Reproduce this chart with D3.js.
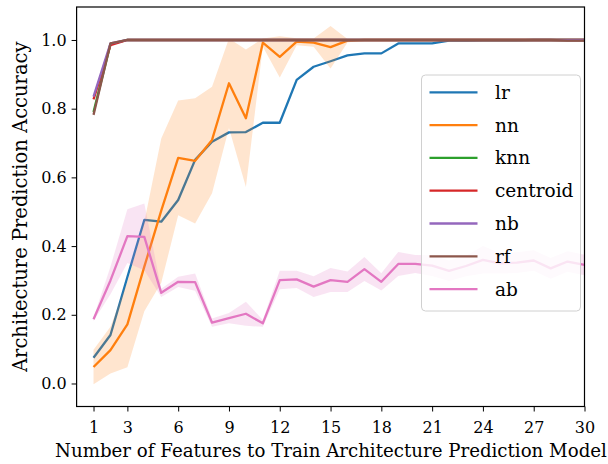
<!DOCTYPE html>
<html><head><meta charset="utf-8">
<script src="https://cdn.jsdelivr.net/npm/d3@7"></script>
<style>body{margin:0;background:#fff}svg{display:block}</style>
</head><body>
<script>
const features = [1,2,3,4,5,6,7,8,9,10,11,12,13,14,15,16,17,18,19,20,21,22,23,24,25,26,27,28,29,30];
const lr = [0.075,0.141,0.31,0.476,0.471,0.534,0.651,0.704,0.731,0.732,0.759,0.759,0.884,0.922,0.938,0.955,0.961,0.961,0.990,0.990,0.990,0.998,0.998,0.999,0.999,0.999,1.0,1.0,1.0,1.0];
const nn = [0.048,0.097,0.172,0.34,0.503,0.657,0.648,0.709,0.874,0.772,0.992,0.951,0.995,0.992,0.979,0.998,1.0,1.0,1.0,1.0,1.0,1.0,1.0,1.0,1.0,1.0,1.0,1.0,1.0,1.0];
const nnStd = [0.05,0.068,0.125,0.13,0.21,0.167,0.182,0.155,0.13,0.2,0.012,0.06,0.01,0.012,0.062,0.005,0,0,0,0,0,0,0,0,0,0,0,0,0,0];
const knn = [0.79,0.988,1,1,1,1,1,1,1,1,1,1,1,1,1,1,1,1,1,1,1,1,1,1,1,1,1,1,1,1];
const centroid = [0.827,0.985,1,1,1,1,1,1,1,1,1,1,1,1,1,1,1,1,1,1,1,1,1,1,1,1,1,1,1,1];
const nb = [0.835,0.99,1,1,1,1,1,1,1,1,1,1,1,1,1,1,1,1,1,1,1,1,1,1,1,1,1,1,1,1];
const rf = [0.782,0.99,1,1,1,1,1,1,1,1,1,1,1,1,1,1,1,1,1,1,1,1,1,1,1,1,1,1,0.998,0.998];
const ab = [0.187,0.30,0.429,0.427,0.264,0.296,0.295,0.177,0.190,0.203,0.175,0.301,0.303,0.282,0.301,0.296,0.333,0.296,0.348,0.348,0.343,0.328,0.342,0.36,0.35,0.352,0.358,0.335,0.355,0.345];
const abStd = [0.005,0.04,0.078,0.097,0.012,0.015,0.025,0.012,0.015,0.035,0.01,0.027,0.025,0.03,0.035,0.03,0.035,0.025,0.035,0.026,0.03,0.03,0.03,0.04,0.03,0.03,0.03,0.03,0.03,0.03];
const seriesNames = ["lr","nn","knn","centroid","nb","rf","ab"];
const colors = ["#1f77b4","#ff7f0e","#2ca02c","#d62728","#9467bd","#8c564b","#e377c2"];
const xTicks = [1,3,6,9,12,15,18,21,24,27,30];
const yTicks = [0.0,0.2,0.4,0.6,0.8,1.0];
const xLabel = "Number of Features to Train Architecture Prediction Model";
const yLabel = "Architecture Prediction Accuracy";

const values = [lr, nn, knn, centroid, nb, rf, ab];
const stds = [null, nnStd, null, null, null, null, abStd];
const FONT = "'DejaVu Serif'";

const W = 608, H = 464;
const m = {left: 76.6, right: 584.5, top: 7, bottom: 406.5};
const svg = d3.select("body").append("svg").attr("width", W).attr("height", H);
const x = d3.scaleLinear().domain([0, 30]).range([m.left, m.right]);
const y = d3.scaleLinear().domain([-0.067, 1.096]).range([m.bottom, m.top]);

const g = svg.append("g");
values.forEach((vals, i) => {
  if (stds[i]) {
    const area = d3.area().x((d, j) => x(features[j])).y0((d, j) => y(vals[j] - stds[i][j])).y1((d, j) => y(vals[j] + stds[i][j]));
    g.append("path").attr("d", area(vals)).attr("fill", colors[i]).attr("fill-opacity", 0.2).attr("stroke", "none");
  }
  const line = d3.line().x((d, j) => x(features[j])).y(d => y(d));
  g.append("path").attr("d", line(vals)).attr("fill", "none").attr("stroke", colors[i]).attr("stroke-width", 2.3).attr("stroke-linejoin", "round");
});

const xAxis = svg.append("g").attr("transform", `translate(0,${m.bottom})`)
  .call(d3.axisBottom(x).tickValues(xTicks).tickSize(5).tickPadding(10).tickFormat(d3.format("d")));
const yAxis = svg.append("g").attr("transform", `translate(${m.left},0)`)
  .call(d3.axisLeft(y).tickValues(yTicks).tickSize(5).tickPadding(5).tickFormat(d3.format(".1f")));
[xAxis, yAxis].forEach(a => {
  a.attr("font-family", FONT).attr("font-size", 16);
  a.select(".domain").remove();
  a.selectAll(".tick line").attr("stroke", "#000").attr("stroke-width", 1);
  a.selectAll(".tick text").attr("fill", "#000");
});
svg.append("rect").attr("x", m.left).attr("y", m.top).attr("width", m.right - m.left).attr("height", m.bottom - m.top)
  .attr("fill", "none").attr("stroke", "#000").attr("stroke-width", 1.2);

svg.append("text").attr("x", 331).attr("y", 457).attr("text-anchor", "middle")
  .attr("font-family", FONT).attr("font-size", 18.2).text(xLabel);
svg.append("text").attr("transform", `translate(27,${(m.top + m.bottom) / 2}) rotate(-90)`).attr("text-anchor", "middle")
  .attr("font-family", FONT).attr("font-size", 19.5).text(yLabel);

const lg = svg.append("g");
lg.append("rect").attr("x", 421.5).attr("y", 75).attr("width", 159).attr("height", 236).attr("rx", 4)
  .attr("fill", "#fff").attr("fill-opacity", 0.8).attr("stroke", "#d0d0d0").attr("stroke-width", 1);
seriesNames.forEach((n, i) => {
  const yy = 92.3 + i * 32.8;
  lg.append("line").attr("x1", 429.5).attr("x2", 477.5).attr("y1", yy).attr("y2", yy)
    .attr("stroke", colors[i]).attr("stroke-width", 2.3);
  lg.append("text").attr("x", 495).attr("y", yy + 6.5).attr("font-family", FONT).attr("font-size", 18.5).text(n);
});
</script>
</body></html>
